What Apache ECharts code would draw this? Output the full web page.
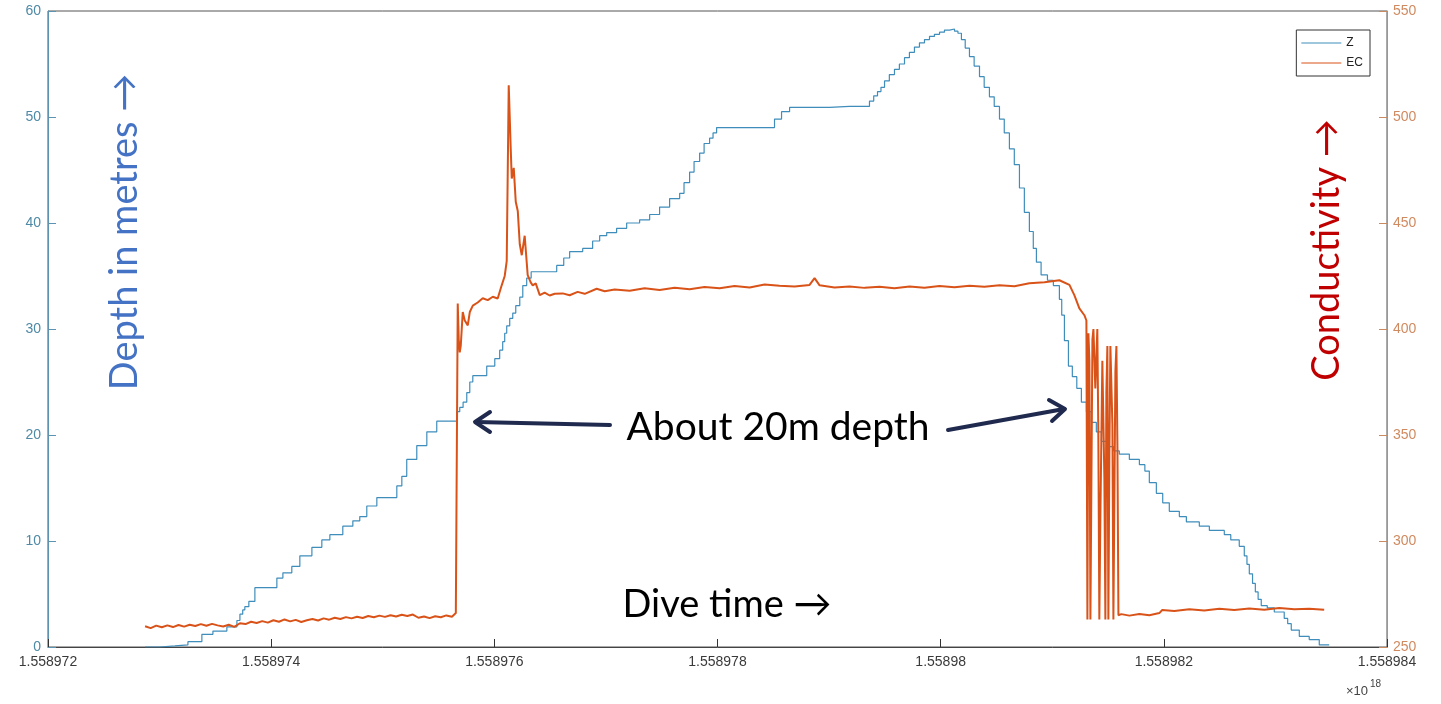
<!DOCTYPE html>
<html>
<head>
<meta charset="utf-8">
<script src="https://cdn.jsdelivr.net/npm/echarts@6/dist/echarts.min.js"></script>
<style>
  html, body { margin: 0; padding: 0; background: #fff; }
  #main { width: 1441px; height: 704px; }
</style>
</head>
<body>
<div id="main"></div>
<script>
"use strict";

// dive time, as offsets from 1.558972 (x10^18), in steps of 1e-6
const timeBase = 1.558972;

// Z : depth in metres (left axis)
const zTime = [0.869, 1.003, 1.137, 1.254, 1.379, 1.478, 1.603, 1.693, 1.720, 1.745,
  1.764, 1.800, 1.854, 1.926, 2.051, 2.105, 2.185, 2.257, 2.365, 2.454,
  2.526, 2.642, 2.732, 2.794, 2.857, 2.947, 3.000, 3.126, 3.171, 3.215,
  3.305, 3.395, 3.484, 3.574, 3.663, 3.690, 3.720, 3.753, 3.780, 3.807,
  3.932, 4.004, 4.048, 4.075, 4.093, 4.111, 4.138, 4.165, 4.192, 4.228,
  4.255, 4.290, 4.330, 4.380, 4.559, 4.622, 4.675, 4.792, 4.881, 4.944,
  5.007, 5.096, 5.186, 5.302, 5.392, 5.481, 5.571, 5.661, 5.700, 5.750,
  5.790, 5.840, 5.880, 5.929, 5.960, 5.992, 6.037, 6.511, 6.574, 6.646,
  6.735, 7.004, 7.183, 7.362, 7.400, 7.434, 7.465, 7.497, 7.540, 7.586,
  7.630, 7.676, 7.720, 7.765, 7.810, 7.855, 7.900, 7.944, 7.990, 8.034,
  8.080, 8.124, 8.155, 8.186, 8.220, 8.258, 8.300, 8.348, 8.390, 8.437,
  8.480, 8.527, 8.570, 8.616, 8.660, 8.706, 8.750, 8.795, 8.830, 8.858,
  8.900, 8.957, 9.010, 9.064, 9.085, 9.109, 9.145, 9.180, 9.220, 9.261,
  9.306, 9.350, 9.395, 9.440, 9.494, 9.550, 9.601, 9.691, 9.781, 9.830,
  9.870, 9.933, 9.990, 10.049, 10.139, 10.202, 10.318, 10.408, 10.542, 10.600,
  10.676, 10.721, 10.745, 10.766, 10.795, 10.820, 10.845, 10.873, 10.927, 10.990,
  11.079, 11.110, 11.142, 11.214, 11.303, 11.393, 11.482];
const zDepth = [0.0, 0.0, 0.1, 0.2, 0.5, 1.2, 1.5, 1.9, 2.5, 3.1,
  3.5, 3.8, 4.3, 5.6, 5.6, 6.5, 7.0, 7.6, 8.6, 9.4,
  10.1, 10.6, 11.4, 11.9, 12.3, 13.3, 14.1, 14.1, 15.2, 16.1,
  17.7, 19.0, 20.3, 21.3, 21.3, 22.2, 22.6, 23.1, 24.0, 25.0,
  25.6, 26.5, 27.2, 28.0, 28.8, 29.6, 30.3, 31.0, 31.5, 32.2,
  33.0, 34.1, 34.8, 35.4, 35.4, 36.0, 36.7, 37.3, 37.6, 38.3,
  38.8, 39.1, 39.5, 40.0, 40.3, 40.8, 41.5, 42.3, 42.8, 43.8,
  44.8, 45.8, 46.6, 47.5, 48.0, 48.5, 49.0, 49.0, 49.8, 50.5,
  50.9, 50.9, 51.0, 51.0, 51.5, 52.0, 52.4, 52.8, 53.4, 54.0,
  54.5, 55.0, 55.6, 56.1, 56.6, 57.0, 57.3, 57.6, 57.8, 58.0,
  58.2, 58.3, 58.1, 57.9, 57.3, 56.5, 55.7, 54.8, 53.8, 52.8,
  51.9, 51.0, 49.8, 48.5, 47.0, 45.5, 43.3, 41.0, 39.2, 37.6,
  36.3, 35.1, 34.6, 34.1, 32.8, 31.3, 28.9, 26.5, 25.5, 24.4,
  23.1, 22.2, 21.2, 20.3, 19.4, 18.9, 18.5, 18.2, 17.7, 17.2,
  16.6, 15.5, 14.5, 13.6, 12.8, 12.3, 11.8, 11.4, 11.0, 10.6,
  10.1, 9.5, 8.6, 7.8, 6.9, 6.0, 5.2, 4.5, 3.9, 3.7,
  3.3, 2.7, 2.2, 1.6, 1.0, 0.7, 0.2];

// EC : conductivity (right axis)
const ecTime = [0.87, 0.92, 0.97, 1.02, 1.07, 1.12, 1.17, 1.22, 1.27, 1.32,
  1.37, 1.42, 1.47, 1.52, 1.57, 1.62, 1.67, 1.72, 1.77, 1.82,
  1.87, 1.92, 1.97, 2.02, 2.07, 2.12, 2.17, 2.22, 2.27, 2.32,
  2.37, 2.42, 2.47, 2.52, 2.57, 2.62, 2.67, 2.72, 2.77, 2.82,
  2.87, 2.92, 2.97, 3.02, 3.07, 3.12, 3.17, 3.22, 3.27, 3.32,
  3.37, 3.42, 3.47, 3.52, 3.57, 3.62, 3.655,
  3.672, 3.681, 3.690, 3.699, 3.717, 3.735, 3.762, 3.780, 3.807, 3.851,
  3.896, 3.941, 3.986, 4.030, 4.066, 4.093, 4.111, 4.129, 4.147, 4.156,
  4.174, 4.192, 4.210, 4.228, 4.246, 4.272, 4.299, 4.326, 4.344, 4.371,
  4.407, 4.451, 4.496, 4.541, 4.613, 4.675, 4.747, 4.810, 4.917, 4.989,
  5.078, 5.213, 5.347, 5.481, 5.616, 5.750, 5.884, 6.019, 6.153, 6.288,
  6.422, 6.556, 6.691, 6.825, 6.870, 6.915, 7.049, 7.183, 7.318, 7.452,
  7.586, 7.721, 7.855, 7.989, 8.124, 8.258, 8.392, 8.527, 8.661, 8.795,
  8.930, 9.064, 9.154, 9.198, 9.243, 9.288, 9.306,
  9.315, 9.324, 9.333, 9.342, 9.360, 9.369, 9.386, 9.404, 9.413, 9.422,
  9.431, 9.449, 9.467, 9.476, 9.485, 9.494, 9.503, 9.512, 9.521, 9.539,
  9.548, 9.566, 9.575, 9.584, 9.593, 9.619, 9.691, 9.781, 9.870, 9.960,
  9.986, 10.094, 10.228, 10.363, 10.497, 10.631, 10.766, 10.900, 11.035, 11.169,
  11.303, 11.437];
const ecValue = [259.8, 258.9, 260.1, 259.3, 260.2, 259.4, 260.4, 259.6, 260.5, 259.9,
  260.8, 260.0, 260.9, 260.2, 259.7, 260.5, 259.5, 261.2, 260.8, 261.9,
  261.3, 262.2, 261.5, 262.6, 261.9, 263.0, 262.1, 262.8, 261.8, 262.6,
  263.2, 262.5, 263.5, 262.9, 263.8, 263.2, 264.1, 263.5, 264.3, 263.7,
  264.6, 264.0, 264.8, 264.2, 265.0, 264.4, 265.2, 264.6, 265.3, 263.8,
  264.4, 263.6, 264.5, 264.0, 264.9, 264.3, 266.0,
  412, 395, 389, 392, 408, 404, 401.7, 408, 411, 412.5,
  414.5, 413.6, 415.2, 414.4, 420.6, 425, 432, 515, 485, 471,
  476, 460, 455.7, 440, 434.8, 444, 425.4, 422, 420.6, 421.5,
  416, 417.2, 415.8, 416.6, 416.8, 415.9, 417.5, 416.6, 419.0, 417.8,
  418.6, 418.0, 419.2, 418.4, 419.5, 418.8, 419.8, 419.2, 420.3, 419.6,
  421.0, 420.4, 420.0, 420.8, 424.0, 420.6, 419.6, 420.1, 419.4, 419.9,
  419.2, 420.0, 419.5, 420.3, 419.7, 420.4, 419.9, 420.6, 420.2, 421.6,
  422.0, 423.0, 420.8, 416.0, 409.7, 406.5, 404.0,
  263, 398, 385, 263, 395, 400, 372, 400, 350, 263,
  310, 385, 330, 263, 370, 392, 263, 340, 392, 355,
  263, 380, 392, 345, 265, 265.5, 264.8, 265.6, 265.0, 266.0,
  267.5, 267.0, 267.8, 267.2, 268.0, 267.4, 268.2, 267.6, 268.4, 267.8,
  268.1, 267.6];

// x tick labels, 1.558972 .. 1.558984
function timeLabel(v) {
  return String(Math.round((timeBase * 1e6 + v)) / 1e6);
}

let myChart = echarts.init(document.getElementById('main'));

let option = {
  animation: false,
  backgroundColor: '#ffffff',
  grid: {
    left: 48, right: 54, top: 11, bottom: 57,
    show: true,
    borderColor: '#555555',
    borderWidth: 1,
  },
  legend: { // legend box, top right inside the plot
    orient: 'vertical',
    right: 71,
    top: 30,
    icon: 'rect',
    itemWidth: 40,
    itemHeight: 1.2,
    itemGap: 8,
    padding: [7, 7, 7, 5],
    borderColor: '#333333',
    borderWidth: 1,
    backgroundColor: '#ffffff',
    textStyle: { fontFamily: 'Liberation Sans', fontSize: 12, color: '#222' },
    data: ['Z', 'EC'],
  },
  xAxis: {
    type: 'value',
    min: 0,
    max: 12,
    interval: 2,
    axisLine: { lineStyle: { color: '#444444' } },
    axisTick: { inside: true, length: 8, lineStyle: { color: '#333' } },
    splitLine: { show: false },
    axisLabel: {
      formatter: timeLabel,
      fontFamily: 'Liberation Sans',
      fontSize: 14,
      color: '#3a3a3a',
      margin: 8,
    },
  },
  yAxis: [
    { // depth
      type: 'value',
      min: 0, max: 60, interval: 10,
      position: 'left',
      axisLine: { show: true, lineStyle: { color: '#5b93b0' } },
      axisTick: { show: true, inside: true, length: 8, lineStyle: { color: '#5b93b0' } },
      splitLine: { show: false },
      axisLabel: { fontFamily: 'Liberation Sans', fontSize: 14, color: '#4e89a6', margin: 7 },
    },
    { // conductivity
      type: 'value',
      min: 250, max: 550, interval: 50,
      position: 'right',
      axisLine: { show: true, lineStyle: { color: '#c98a5f' } },
      axisTick: { show: true, inside: true, length: 8, lineStyle: { color: '#c98a5f' } },
      splitLine: { show: false },
      axisLabel: { fontFamily: 'Liberation Sans', fontSize: 14, color: '#d08a60', margin: 6 },
    },
  ],
  series: [
    {
      name: 'Z',
      type: 'line',
      yAxisIndex: 0,
      step: 'start',
      symbol: 'none',
      data: zTime.map((t, i) => [t, zDepth[i]]),
      lineStyle: { color: '#3f8dbb', width: 1.2 },
      itemStyle: { color: '#3f8dbb' },
      z: 2,
    },
    {
      name: 'EC',
      type: 'line',
      yAxisIndex: 1,
      symbol: 'none',
      data: ecTime.map((t, i) => [t, ecValue[i]]),
      lineStyle: { color: '#d95319', width: 2 },
      itemStyle: { color: '#d95319' },
      z: 3,
    },
  ],
  graphic: [
    { // left axis note
      type: 'text', x: 125, y: 232, rotation: Math.PI / 2,
      style: {
        text: 'Depth in metres \u2192', fill: '#4472c4',
        font: '38px Lato, "Open Sans", sans-serif',
        align: 'center', verticalAlign: 'middle',
      },
    },
    { // right axis note
      type: 'text', x: 1327, y: 250, rotation: Math.PI / 2,
      style: {
        text: 'Conductivity \u2192', fill: '#c00000',
        font: '38px Lato, "Open Sans", sans-serif',
        align: 'center', verticalAlign: 'middle',
      },
    },
    {
      type: 'text', x: 778, y: 427,
      style: {
        text: 'About 20m depth', fill: '#000',
        font: '39px Lato, "Open Sans", sans-serif',
        align: 'center', verticalAlign: 'middle',
      },
    },
    {
      type: 'text', x: 727, y: 605,
      style: {
        text: 'Dive time \u2192', fill: '#000',
        font: '38px Lato, "Open Sans", sans-serif',
        align: 'center', verticalAlign: 'middle',
      },
    },
    // arrows to the 20 m points
    {
      type: 'line', shape: { x1: 610, y1: 425, x2: 476, y2: 422 },
      style: { stroke: '#1f2a4e', lineWidth: 4, lineCap: 'round' },
    },
    {
      type: 'polyline', shape: { points: [[490, 412], [475, 422], [490, 432]] },
      style: { stroke: '#1f2a4e', fill: null, lineWidth: 4, lineCap: 'round', lineJoin: 'round' },
    },
    {
      type: 'line', shape: { x1: 948, y1: 430, x2: 1064, y2: 409 },
      style: { stroke: '#1f2a4e', lineWidth: 4, lineCap: 'round' },
    },
    {
      type: 'polyline', shape: { points: [[1049, 400], [1065, 409], [1052, 421]] },
      style: { stroke: '#1f2a4e', fill: null, lineWidth: 4, lineCap: 'round', lineJoin: 'round' },
    },
    // axis exponent
    {
      type: 'text', x: 1346, y: 691,
      style: { text: '\u00d710', fill: '#444', font: '13px "Liberation Sans"', verticalAlign: 'middle' },
    },
    {
      type: 'text', x: 1370, y: 684,
      style: { text: '18', fill: '#444', font: '10px "Liberation Sans"', verticalAlign: 'middle' },
    },
  ],
};

myChart.setOption(option);
</script>
</body>
</html>
